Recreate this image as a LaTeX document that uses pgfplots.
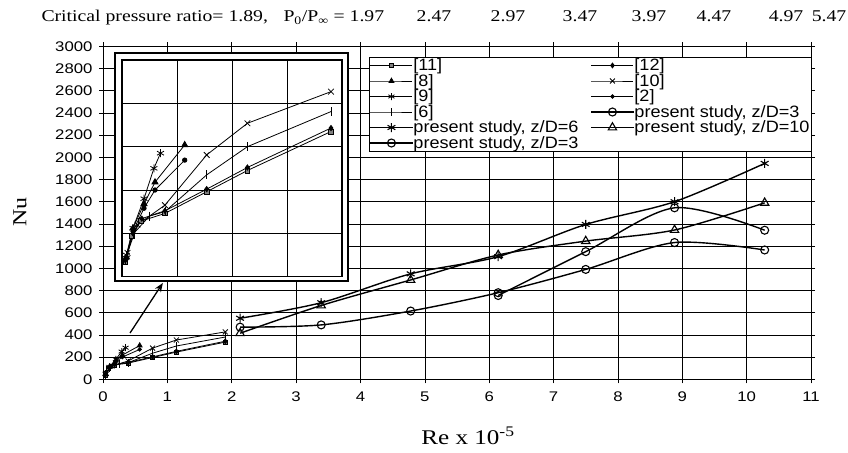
\documentclass[border=0pt]{standalone}
\usepackage{fontspec}
\setmainfont{Liberation Serif}
\newfontfamily\arialf[FakeStretch=1.2]{Liberation Sans}
\newfontfamily\legf[FakeStretch=1.1]{Liberation Sans}
\newfontfamily\timesf[FakeStretch=1.2]{Liberation Serif}
\usepackage{pgfplots}
\usepackage{pgfplotstable}
\pgfplotsset{compat=1.18}
\usetikzlibrary{arrows.meta}

% literature data (Re x 1e-5, Nu)
\pgfplotstableread{
x y
0.03 35
0.09 95
0.17 128
0.39 146
0.77 196
1.14 245
1.90 335
}\tA % [11]
\pgfplotstableread{
x y
0.03 38
0.10 100
0.18 134
0.39 152
0.77 202
1.14 252
1.90 343
}\tB % [12]
\pgfplotstableread{
x y
0.04 45
0.10 112
0.20 168
0.30 218
0.57 304
}\tC % [8]
\pgfplotstableread{
x y
0.05 55
0.14 120
0.39 165
0.77 281
1.14 354
1.90 427
}\tD % [10]
\pgfplotstableread{
x y
0.04 50
0.10 112
0.20 180
0.29 250
0.35 285
}\tE % [9]
\pgfplotstableread{
x y
0.04 42
0.10 105
0.20 158
0.30 200
0.57 269
}\tF % [2]
\pgfplotstableread{
x y
0.03 40
0.10 98
0.25 140
0.39 150
0.77 235
1.14 300
1.90 381
}\tG % [6]
% present study
\pgfplotstableread{
x y
2.13 550
3.39 690
4.78 950
6.14 1105
7.50 1395
8.88 1600
10.28 1945
}\tAst
\pgfplotstableread{
x y
2.13 415
3.39 665
4.78 895
6.14 1120
7.50 1245
8.88 1345
10.28 1590
}\tTri
\pgfplotstableread{
x y
2.13 470
3.39 490
4.78 615
6.14 780
7.50 990
8.88 1232
10.28 1165
}\tCa
\pgfplotstableread{
x y
6.14 755
7.50 1150
8.88 1545
10.28 1343
}\tCb

\pgfplotsset{
  lit/.style={black, line width=0.8bp, mark options={solid, line width=0.8bp}},
  pres/.style={black, line width=1.4bp, smooth, mark options={solid, line width=1.1bp, fill=white}},
}

\begin{document}
\begin{tikzpicture}
\useasboundingbox (0bp,0bp) rectangle (848bp,453bp);
\begin{axis}[
  at={(103bp,73.7bp)}, anchor=south west, scale only axis,
  width=708bp, height=333bp,
  xmin=0, xmax=11, ymin=0, ymax=3000,
  xtick={0,1,...,11}, ytick={0,200,...,3000},
  grid=major, grid style={black, line width=0.6bp},
  axis line style={black, line width=1bp},
  tick style={black, line width=0.6bp}, tick align=outside, major tick length=4bp,
  tick label style={font=\arialf\fontsize{14}{14}\selectfont},
  /pgf/number format/assume math mode=true,
  /pgf/number format/1000 sep={},
  xticklabel style={yshift=-5bp},
  yticklabel style={xshift=-3bp},
  legend columns=2,
  legend style={at={(1,0.967)}, anchor=north east, draw=black, fill=white,
    font=\legf\fontsize{16.5}{16.5}\selectfont, inner sep=1bp, row sep=1.5bp,
    cells={anchor=west}, nodes={inner sep=0.3bp},
    /tikz/every even column/.append style={column sep=12bp}},
  legend image code/.code={\draw[mark repeat=2,mark phase=2] plot coordinates {(0bp,0bp)(21bp,0bp)(42bp,0bp)};},
]
\addplot[lit, mark=square*, mark size=2bp, mark options={fill=gray}] table {\tA};
\addlegendentry{[11]}
\addplot[lit, mark=diamond*, mark size=2.4bp] table {\tB};
\addlegendentry{[12]}
\addplot[lit, mark=triangle*, mark size=2.8bp] table {\tC};
\addlegendentry{[8]}
\addplot[lit, mark=x, mark size=3.5bp] table {\tD};
\addlegendentry{[10]}
\addplot[lit, mark=asterisk, mark size=3.5bp] table {\tE};
\addlegendentry{[9]}
\addplot[lit, mark=*, mark size=1.8bp] table {\tF};
\addlegendentry{[2]}
\addplot[lit, mark=|, mark size=4bp] table {\tG};
\addlegendentry{[6]}
\addplot[pres, mark=o, mark size=4bp] table {\tCb};
\addlegendentry{present study, z/D=3}
\addplot[pres, mark=asterisk, mark size=4.5bp] table {\tAst};
\addlegendentry{present study, z/D=6}
\addplot[pres, mark=triangle, mark size=4.8bp] table {\tTri};
\addlegendentry{present study, z/D=10}
\addplot[pres, mark=o, mark size=4bp] table {\tCa};
\addlegendentry{present study, z/D=3}
\draw[-{Stealth[length=9bp,width=7bp]}, line width=1.3bp] (axis cs:0.42,417) -- (axis cs:0.93,868);
\end{axis}

% inset
\draw[fill=white, line width=1.2bp] (115bp,172bp) rectangle (348bp,400bp);
\begin{axis}[
  at={(122bp,176.3bp)}, anchor=south west, scale only axis,
  width=220bp, height=216.7bp,
  xmin=0, xmax=2, ymin=0, ymax=500,
  xtick={0,0.5,...,2}, ytick={0,100,...,500},
  xticklabels={}, yticklabels={}, major tick length=0pt,
  grid=major, grid style={black, line width=0.6bp},
  axis line style={black, line width=1.2bp},
  axis background/.style={fill=white},
]
\addplot[lit, mark=square*, mark size=2.4bp, mark options={fill=gray}] table {\tA};
\addplot[lit, mark=diamond*, mark size=2.6bp] table {\tB};
\addplot[lit, mark=triangle*, mark size=3.5bp] table {\tC};
\addplot[lit, mark=x, mark size=4bp] table {\tD};
\addplot[lit, mark=asterisk, mark size=4bp] table {\tE};
\addplot[lit, mark=*, mark size=2.2bp] table {\tF};
\addplot[lit, mark=|, mark size=4.5bp] table {\tG};
\end{axis}

% header and axis titles
\node[anchor=base west, font=\timesf\fontsize{16.5}{16.5}\selectfont] at (38bp,431bp) {Critical pressure ratio= 1.89,};
\node[anchor=base west, font=\timesf\fontsize{16.5}{16.5}\selectfont] at (280bp,431bp) {P\textsubscript{0}/P\textsubscript{∞} = 1.97};
\foreach \v/\p in {2.47/434, 2.97/508, 3.47/580, 3.97/649, 4.47/714, 4.97/786, 5.47/829}
  \node[anchor=base, font=\timesf\fontsize{16.5}{16.5}\selectfont] at (\p bp,431bp) {\v};
\node[rotate=90, font=\timesf\fontsize{20}{20}\selectfont] at (20bp,241bp) {Nu};
\node[font=\timesf\fontsize{21}{21}\selectfont] at (468bp,17bp) {Re x 10\textsuperscript{-5}};
\end{tikzpicture}
\end{document}
